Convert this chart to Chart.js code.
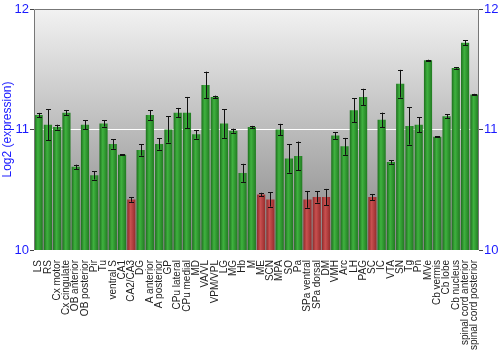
<!DOCTYPE html>
<html>
<head>
<meta charset="utf-8">
<script src="https://cdn.jsdelivr.net/npm/chart.js@4"></script>
<style>
  body { margin: 0; background: #fff; }
  canvas { display: block; }
</style>
</head>
<body>
<canvas id="expr" width="500" height="350"></canvas>
<script>
// brain regions along the x axis
const regions = [
  "LS", "RS", "Cx motor", "Cx cingulate", "OB anterior", "OB posterior", "Pir", "Tu",
  "ventral S", "CA1", "CA2/CA3", "DG", "A anterior", "A posterior", "GP", "CPu lateral",
  "CPu medial", "MD", "VA/VL", "VPM/VPL", "LG", "MG", "Hb", "M",
  "ME", "SCN", "MPA", "SO", "Pa", "SPa ventral", "SPa dorsal", "DM",
  "VMH", "Arc", "LH", "PAG", "SC", "IC", "VTA", "SN",
  "Tg", "Pn", "MVe", "Cb vermis", "Cb lobe", "Cb nucleus", "spinal cord anterior", "spinal cord posterior"
];

// mean log2 expression per region
const expression = [
  11.12, 11.04, 11.02, 11.14, 10.69, 11.04, 10.62, 11.05,
  10.88, 10.79, 10.42, 10.83, 11.12, 10.88, 11.00, 11.14,
  11.14, 10.96, 11.37, 11.27, 11.05, 10.99, 10.64, 11.02,
  10.46, 10.42, 11.00, 10.76, 10.78, 10.42, 10.44, 10.44,
  10.95, 10.86, 11.16, 11.27, 10.44, 11.08, 10.73, 11.38,
  11.03, 11.04, 11.575, 10.94, 11.11, 11.51, 11.72, 11.29
];

// standard error per region
const stdErr = [
  0.018, 0.13, 0.02, 0.022, 0.018, 0.036, 0.035, 0.026,
  0.04, 0.005, 0.02, 0.047, 0.04, 0.047, 0.108, 0.039,
  0.13, 0.036, 0.11, 0.011, 0.12, 0.017, 0.075, 0.01,
  0.015, 0.06, 0.047, 0.118, 0.12, 0.07, 0.046, 0.067,
  0.028, 0.07, 0.1, 0.068, 0.025, 0.06, 0.014, 0.115,
  0.155, 0.063, 0.004, 0.004, 0.017, 0.005, 0.02, 0.006
];

const yTicks = [10, 11, 12];
const lowCutoff = 10.5;

// horizontal shading across each bar
function barFill(ctx) {
  const low = ctx.raw !== undefined && ctx.raw < lowCutoff;
  const flat = low ? '#b83c3c' : '#2f9e2f';
  const chart = ctx.chart;
  if (!chart.chartArea || ctx.dataIndex === undefined) return flat;
  const xs = chart.scales.x;
  const cx = xs.getPixelForValue(ctx.dataIndex);
  const half = xs.width / regions.length * 0.88 / 2;
  const g = chart.ctx.createLinearGradient(cx - half, 0, cx + half, 0);
  if (low) {
    g.addColorStop(0, '#8e2a2a');
    g.addColorStop(0.4, '#c95050');
    g.addColorStop(1, '#962c2c');
  } else {
    g.addColorStop(0, '#1d6f1d');
    g.addColorStop(0.4, '#3fb23f');
    g.addColorStop(1, '#217a21');
  }
  return g;
}

// gray gradient behind the bars plus frame
const plotBackground = {
  id: 'plotBackground',
  beforeDraw(chart) {
    const { ctx, chartArea: a } = chart;
    const g = ctx.createLinearGradient(0, a.top, 0, a.bottom);
    g.addColorStop(0, '#f2f2f2');
    g.addColorStop(1, '#858585');
    ctx.save();
    ctx.fillStyle = g;
    ctx.fillRect(a.left, a.top, a.right - a.left, a.bottom - a.top);
    ctx.restore();
  },
  afterDraw(chart) {
    const { ctx, chartArea: a } = chart;
    ctx.save();
    ctx.strokeStyle = '#777';
    ctx.lineWidth = 1;
    ctx.beginPath();
    ctx.moveTo(a.left + 0.5, a.bottom);
    ctx.lineTo(a.left + 0.5, a.top + 0.5);
    ctx.lineTo(a.right - 0.5, a.top + 0.5);
    ctx.lineTo(a.right - 0.5, a.bottom);
    ctx.stroke();
    ctx.restore();
  }
};

// error whiskers on top of each bar
const errorBars = {
  id: 'errorBars',
  afterDatasetsDraw(chart) {
    const { ctx } = chart;
    const y = chart.scales.y;
    const bars = chart.getDatasetMeta(0).data;
    ctx.save();
    ctx.strokeStyle = '#111';
    ctx.lineWidth = 1;
    bars.forEach((bar, i) => {
      const x = Math.round(bar.x) + 0.5;
      const top = y.getPixelForValue(expression[i] + stdErr[i]);
      const bot = y.getPixelForValue(expression[i] - stdErr[i]);
      ctx.beginPath();
      ctx.moveTo(x, top);
      ctx.lineTo(x, bot);
      ctx.moveTo(x - 2.5, Math.round(top) + 0.5);
      ctx.lineTo(x + 2.5, Math.round(top) + 0.5);
      ctx.moveTo(x - 2.5, Math.round(bot) + 0.5);
      ctx.lineTo(x + 2.5, Math.round(bot) + 0.5);
      ctx.stroke();
    });
    ctx.restore();
  }
};

const tickFont = { family: 'Liberation Sans, Arial, sans-serif', size: 13 };
const blue = '#1a1aff';

new Chart(document.getElementById('expr'), {
  type: 'bar',
  data: {
    labels: regions,
    datasets: [{
      data: expression,
      backgroundColor: barFill,
      borderWidth: 0,
      barPercentage: 0.88,
      categoryPercentage: 1.0
    }]
  },
  options: {
    responsive: false,
    animation: false,
    layout: { padding: { top: 9, right: 0, bottom: 0, left: 0 } },
    plugins: { legend: { display: false }, tooltip: { enabled: false } },
    scales: {
      x: {
        grid: { display: false },
        border: { display: false },
        ticks: {
          autoSkip: false,
          minRotation: 90,
          maxRotation: 90,
          padding: 2,
          color: '#222',
          font: { family: 'Liberation Sans, Arial, sans-serif', size: 10 }
        },
        afterFit(s) { s.height = 100; }
      },
      y: {
        min: 10,
        max: 12,
        afterBuildTicks(s) { s.ticks = yTicks.map(v => ({ value: v })); },
        grid: {
          drawOnChartArea: true,
          tickLength: 4,
          color: c => c.tick && c.tick.value === 11 ? '#ffffff' : 'rgba(0,0,0,0)',
          tickColor: '#444'
        },
        border: { display: false },
        ticks: { color: blue, font: tickFont, padding: 1 },
        title: {
          display: true,
          text: 'Log2 (expression)',
          color: blue,
          font: { family: 'Liberation Sans, Arial, sans-serif', size: 12 },
          padding: 0
        },
        afterFit(s) { s.width = 34; }
      },
      y2: {
        position: 'right',
        min: 10,
        max: 12,
        afterBuildTicks(s) { s.ticks = yTicks.map(v => ({ value: v })); },
        grid: { drawOnChartArea: false, tickLength: 4, tickColor: '#444' },
        border: { display: false },
        ticks: { color: blue, font: tickFont, padding: 1 },
        afterFit(s) { s.width = 21; }
      }
    }
  },
  plugins: [plotBackground, errorBars]
});
</script>
</body>
</html>
